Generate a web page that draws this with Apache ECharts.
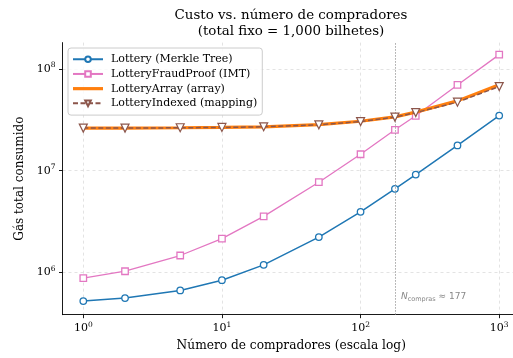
<!DOCTYPE html>
<html>
<head>
<meta charset="utf-8">
<script src="https://cdn.jsdelivr.net/npm/echarts@6/dist/echarts.min.js"></script>
<style>html,body{margin:0;padding:0;background:#fff;}#c{width:513px;height:358px;}</style>
</head>
<body>
<div id="c"></div>
<script>
const buyers = [1, 2, 5, 10, 20, 50, 100, 177, 250, 500, 1000];
const merkleGas = [5.24e5, 5.61e5, 6.67e5, 8.41e5, 1.19e6, 2.23e6, 3.95e6, 6.64e6, 9.16e6, 1.77e7, 3.48e7];
const fraudProofGas = [8.80e5, 1.03e6, 1.47e6, 2.15e6, 3.56e6, 7.71e6, 1.45e7, 2.52e7, 3.46e7, 6.95e7, 1.38e8];
const arrayGas = [2.62e7, 2.62e7, 2.64e7, 2.66e7, 2.70e7, 2.84e7, 3.06e7, 3.38e7, 3.76e7, 4.85e7, 7.0e7];
const indexedGas = [2.62e7, 2.62e7, 2.64e7, 2.66e7, 2.70e7, 2.82e7, 3.04e7, 3.36e7, 3.72e7, 4.71e7, 6.70e7];
const xTicks = [1, 10, 100, 1000];
const yTicks = [1e6, 1e7, 1e8];
const seriesNames = ['Lottery (Merkle Tree)', 'LotteryFraudProof (IMT)', 'LotteryArray (array)', 'LotteryIndexed (mapping)'];
const crossover = 177;

const pair = arr => buyers.map((x, i) => [x, arr[i]]);
const serif = 'DejaVu Serif';
const expLabel = v => '{b|10}{s|' + Math.round(Math.log10(v)) + '}';
const tickRich = {
  b: {fontFamily: serif, fontSize: 11, color: '#000', lineHeight: 15},
  s: {fontFamily: serif, fontSize: 7.5, color: '#000', verticalAlign: 'top', lineHeight: 15, padding: [0, 0, 6, 0]}
};
const splitLine = {show: true, lineStyle: {color: '#dcdcdc', type: [3, 3], width: 0.8}};

const chart = echarts.init(document.getElementById('c'), null, {renderer: 'canvas'});
chart.setOption({
  animation: false,
  backgroundColor: '#fff',
  title: {
    text: 'Custo vs. número de compradores\n(total fixo = 1,000 bilhetes)',
    left: 286, top: 3, textAlign: 'center',
    textStyle: {fontFamily: serif, fontSize: 13.4, fontWeight: 'normal', color: '#000', lineHeight: 15.5}
  },
  grid: {left: 62.5, right: -7, top: 42.6, bottom: 43.3, outerBoundsMode: 'none', containLabel: false},
  legend: {
    orient: 'vertical', left: 68, top: 48,
    padding: [5.5, 5, 6, 4], itemGap: 3.2, itemWidth: 30, itemHeight: 7,
    borderColor: '#cccccc', borderWidth: 1, borderRadius: 3,
    backgroundColor: 'rgba(255,255,255,0.8)',
    textStyle: {fontFamily: serif, fontSize: 11, color: '#000', padding: [0, 0, 0, 3], lineHeight: 11.5},
    data: [
      {name: seriesNames[0]},
      {name: seriesNames[1]},
      {name: seriesNames[2], icon: 'path://M0,0 L30,0 L30,3.2 L0,3.2 Z', itemStyle: {color: '#ff7f0e'}},
      {name: seriesNames[3]}
    ]
  },
  xAxis: {
    type: 'log', logBase: 10, min: Math.pow(10, -0.15), max: Math.pow(10, 3.15),
    name: 'Número de compradores (escala log)', nameLocation: 'middle', nameGap: 24,
    nameTextStyle: {fontFamily: serif, fontSize: 12.2, color: '#000'},
    axisLine: {show: true, lineStyle: {color: '#000', width: 0.9}},
    axisTick: {show: true, inside: false, length: 3.5, lineStyle: {color: '#000', width: 0.9}, customValues: xTicks},
    minorTick: {show: false},
    axisLabel: {customValues: xTicks, margin: 6, formatter: expLabel, rich: tickRich, showMinLabel: true, showMaxLabel: true},
    splitLine: splitLine
  },
  yAxis: {
    type: 'log', logBase: 10, min: Math.pow(10, 5.586), max: Math.pow(10, 8.258),
    name: 'Gás total consumido', nameLocation: 'middle', nameGap: 35,
    nameTextStyle: {fontFamily: serif, fontSize: 12, color: '#000'},
    axisLine: {show: true, lineStyle: {color: '#000', width: 0.9}},
    axisTick: {show: true, inside: false, length: 3.5, lineStyle: {color: '#000', width: 0.9}, customValues: yTicks},
    minorTick: {show: false},
    axisLabel: {customValues: yTicks, margin: 7, formatter: expLabel, rich: tickRich},
    splitLine: splitLine
  },
  series: [
    {
      name: seriesNames[0], type: 'line', data: pair(merkleGas), z: 3,
      symbol: 'circle', symbolSize: 6.5, showAllSymbol: true,
      lineStyle: {color: '#1f77b4', width: 1.5},
      itemStyle: {color: '#fff', borderColor: '#1f77b4', borderWidth: 1.3},
      markLine: {
        silent: true, symbol: 'none',
        lineStyle: {color: '#999', type: [1.5, 1.5], width: 0.9},
        label: {show: false},
        data: [{xAxis: crossover}]
      },
      markPoint: {
        symbol: 'circle', symbolSize: 0,
        label: {
          show: true, position: 'right', distance: 6,
          formatter: '{i|N}{sub|compras}{t| ≈ ' + crossover + '}',
          rich: {
            i: {fontFamily: 'DejaVu Sans', fontStyle: 'italic', fontSize: 9, color: '#888', lineHeight: 14},
            sub: {fontFamily: 'DejaVu Sans', fontSize: 6.5, color: '#888', verticalAlign: 'bottom', lineHeight: 14, padding: [4, 0, 0, 0]},
            t: {fontFamily: 'DejaVu Sans', fontSize: 9, color: '#888', lineHeight: 14}
          }
        },
        data: [{coord: [crossover, 5.86e5]}]
      }
    },
    {
      name: seriesNames[1], type: 'line', data: pair(fraudProofGas), z: 3,
      symbol: 'rect', symbolSize: 6.5,
      lineStyle: {color: '#e377c2', width: 1.3},
      itemStyle: {color: '#fff', borderColor: '#e377c2', borderWidth: 1.3}
    },
    {
      name: seriesNames[2], type: 'line', data: pair(arrayGas), z: 4,
      symbol: 'none',
      lineStyle: {color: '#ff7f0e', width: 3.2},
      itemStyle: {color: '#ff7f0e'}
    },
    {
      name: seriesNames[3], type: 'line', data: pair(indexedGas), z: 5,
      symbol: 'triangle', symbolRotate: 180, symbolSize: 8,
      lineStyle: {color: '#8c564b', width: 1.5, type: [5, 2.5]},
      itemStyle: {color: '#fff', borderColor: '#8c564b', borderWidth: 1.2}
    }
  ]
});
</script>
</body>
</html>
